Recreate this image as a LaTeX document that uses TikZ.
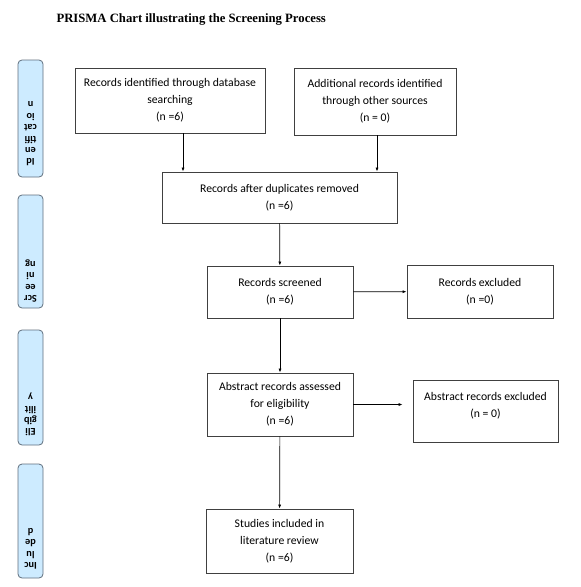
\documentclass[tikz,border=0pt]{standalone}
\usepackage{fontspec}
\setmainfont{Carlito}
\newfontfamily\titlefont{Liberation Serif}
\usetikzlibrary{arrows.meta}
\definecolor{sidefill}{RGB}{205,235,255}
\definecolor{sideline}{RGB}{95,110,125}
\tikzset{
  box/.style={draw=black!75, line width=0.8pt, align=center, inner sep=0pt,
    font=\fontsize{11.7}{17}\selectfont},
  sidebox/.style={draw=sideline, fill=sidefill, rounded corners=4pt,
    line width=0.8pt, minimum width=25pt},
  sidetext/.style={rotate=180, anchor=north, align=center, inner sep=0pt,
    font=\bfseries\fontsize{10.3}{11.4}\selectfont}
}
\begin{document}
\begin{tikzpicture}[x=1pt, y=-1pt, >={Latex[length=4pt,width=3pt]}]
  \useasboundingbox (0,0) rectangle (581,587);
  \node[anchor=west, font=\titlefont\bfseries\fontsize{12.7}{15}\selectfont] (title) at (53,19.5)
    {PRISMA Chart illustrating the Screening Process};
  % phase labels on the left
  \node[sidebox, minimum height=117pt] (sideA) at (30.5,118.5) {};
  \node[sidebox, minimum height=113pt] (sideB) at (30.5,251.5) {};
  \node[sidebox, minimum height=115pt] (sideC) at (30.5,387.5) {};
  \node[sidebox, minimum height=114pt] (sideD) at (30.5,521) {};
  \node[sidetext] (sideAtxt) at ([yshift=11pt]sideA.south) {Id\\en\\tifi\\cat\\io\\n};
  \node[sidetext] (sideBtxt) at ([yshift=6pt]sideB.south) {Scr\\ee\\ni\\ng};
  \node[sidetext] (sideCtxt) at ([yshift=9pt]sideC.south) {Eli\\gib\\ilit\\y};
  \node[sidetext] (sideDtxt) at ([yshift=9pt]sideD.south) {Inc\\lu\\de\\d};
  % flow boxes
  \node[box, minimum width=190pt, minimum height=65pt] (idA) at (170,100.5)
    {Records identified through database\\searching\\(n =6)};
  \node[box, minimum width=162pt, minimum height=67pt] (idB) at (375,101.5)
    {Additional records identified\\through other sources\\(n = 0)};
  \node[box, minimum width=235pt, minimum height=51pt] (dup) at (279.5,197.5)
    {Records after duplicates removed\\(n =6)};
  \node[box, minimum width=146pt, minimum height=52pt] (scr) at (280,292)
    {Records screened\\(n =6)};
  \node[box, minimum width=146pt, minimum height=53pt] (exc) at (480,291.5)
    {Records excluded\\(n =0)};
  \node[box, minimum width=146pt, minimum height=63pt] (abs) at (280,404.5)
    {Abstract records assessed\\for eligibility\\(n =6)};
  \node[box, minimum width=145pt, minimum height=62pt] (absx) at (485.5,411)
    {Abstract records excluded\\(n = 0)\\[-4pt]\mbox{}};
  \node[box, minimum width=147pt, minimum height=64pt] (inc) at (279.5,541)
    {Studies included in\\literature review\\(n =6)};
  % connectors
  \path[->, line width=0.7pt]
    ([xshift=13pt]idA.south) edge ([xshift=13pt]idA.south |- dup.north)
    ([xshift=2pt]idB.south) edge ([xshift=2pt]idB.south |- dup.north)
    (dup) edge (scr)
    (scr) edge (exc)
    (scr) edge (abs)
    (abs) edge (inc);
  \draw[->, line width=0.7pt, shorten >=10pt] (abs.east) -- (abs.east -| absx.west);
\end{tikzpicture}
\end{document}
